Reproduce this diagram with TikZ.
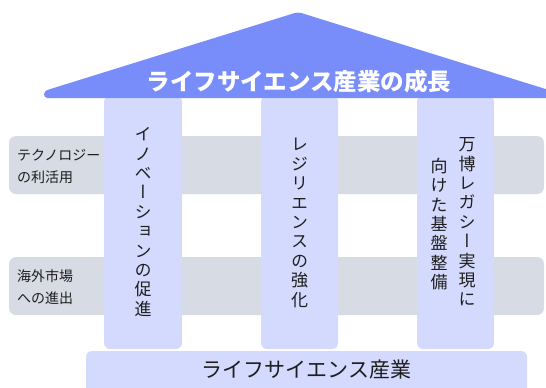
\documentclass[tikz,border=0pt]{standalone}
\usepackage{fontspec}
\newfontfamily\jp{Noto Sans CJK JP}
\newfontfamily\jpv[RawFeature=+vert]{Noto Sans CJK JP}
\definecolor{roofc}{HTML}{788CFA}
\definecolor{pillarc}{HTML}{D4DAFD}
\definecolor{bandc}{HTML}{D7DCE4}
\definecolor{txtc}{HTML}{1E1E1E}
\tikzset{
  bandbox/.style={fill=bandc, rounded corners=7pt},
  pillarbox/.style={fill=pillarc, rounded corners=6pt},
  vtext/.style={align=center, inner sep=0pt, text=txtc, font=\jpv\fontsize{17}{19.4}\selectfont},
  sidelabel/.style={align=left, anchor=west, inner sep=0pt, text=txtc, font=\jp\fontsize{14}{22}\selectfont},
}
\begin{document}
\begin{tikzpicture}[x=1pt,y=-1pt]
\useasboundingbox (0,0) rectangle (546,388);
\begin{scope}
\clip (0,0) rectangle (546,388);
% bands
\fill[bandbox] (9,136) rectangle (544,194);
\fill[bandbox] (9,257) rectangle (544,315);
% pillars
\fill[pillarbox] (104,96) rectangle (182,349);
\fill[pillarbox] (261,96) rectangle (338,349);
\fill[pillarbox] (417,96) rectangle (494,349);
% base
\fill[pillarbox] (86,351) rectangle (527,400);
% roof
\fill[roofc, rounded corners=3.5pt] (44,98) -- (44,91) -- (298,12) -- (552,91) -- (552,98) -- cycle;
\end{scope}
% texts
\node[text=white, inner sep=0pt, font=\jp\bfseries\fontsize{23.5}{26}\selectfont] (roof) at (299,82) {ライフサイエンス産業の成長};
\node[vtext] (p1) at (143,222) {イ\\ノ\\ベ\\ー\\シ\\ョ\\ン\\の\\促\\進};
\node[vtext] (p2) at (299.5,223) {レ\\ジ\\リ\\エ\\ン\\ス\\の\\強\\化};
\node[vtext] (p3a) at (467,222) {万\\博\\レ\\ガ\\シ\\ー\\実\\現\\に};
\node[vtext] (p3b) at (439,224) {向\\け\\た\\基\\盤\\整\\備};
\node[sidelabel] (l1) at (17,166) {テクノロジー\\の利活用};
\node[sidelabel] (l2) at (17,287) {海外市場\\への進出};
\node[text=txtc, inner sep=0pt, font=\jp\fontsize{21}{24}\selectfont] (base) at (306.5,369.5) {ライフサイエンス産業};
\end{tikzpicture}
\end{document}
